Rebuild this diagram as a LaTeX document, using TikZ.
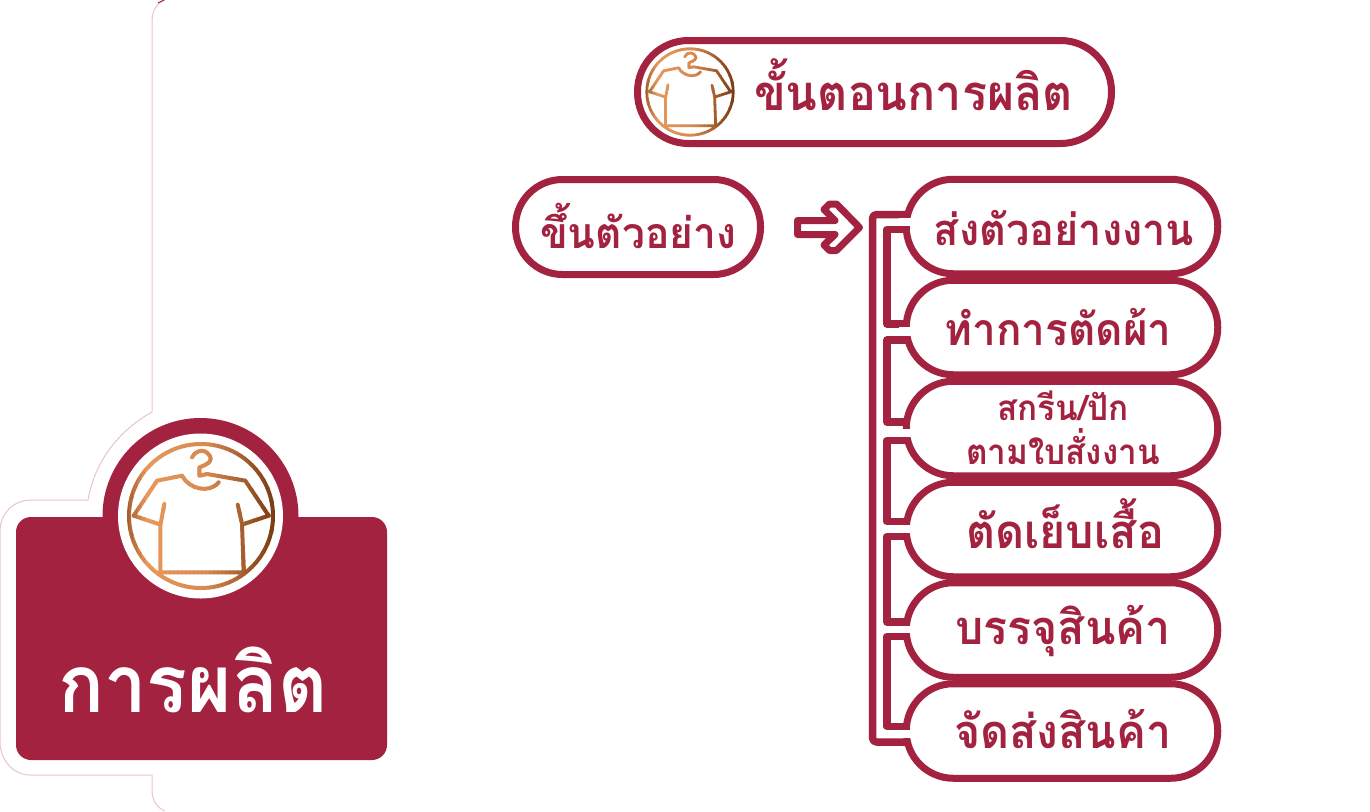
\documentclass[tikz,border=0pt]{standalone}
\usepackage{fontspec}
\newfontfamily\thaifont[Script=Thai,FakeStretch=0.95]{Loma}
\definecolor{crim}{HTML}{A32240}
\definecolor{pinkline}{HTML}{E6C3CD}
\definecolor{copperL}{HTML}{E8985C}
\definecolor{copperD}{HTML}{74350F}
\newcommand{\coppericon}[4]{%
  \foreach \ci in {0,...,37}{%
    \pgfmathtruncatemacro\cp{\ci<5 ? 40+12*\ci : (\ci<20 ? 100-(\ci-5) : 85-(\ci-20)*4.7)}%
    \begin{scope}[shift={(#1,#2)},scale=#3]
      \clip (-76+4*\ci,-80) rectangle (-76+4*\ci+4.6,80);
      \draw[copperL!\cp!copperD,line width=#4,line join=round,line cap=round]
        (0,0) circle[radius=72]
        (-19,-40.3) -- (-44,-35.3) -- (-67.3,-0.3) -- (-42.3,8)
        (-36.7,-12) -- (-40.7,9.7) -- (-40.7,56.3) -- (42.7,56.3) -- (41,8) -- (36.7,-11.3)
        (42.7,8) -- (67.7,-0.3) -- (44.3,-35.3) -- (6,-42) -- (-1.7,-40.3) -- (-1.7,-48.7)
        .. controls (8,-52) and (12,-56) .. (8.7,-60.3)
        .. controls (6,-66) and (-4,-68) .. (-9,-58.7)
        (-19,-40.3) .. controls (-12,-27) and (8,-22) .. (17.7,-33.7);
    \end{scope}
  }%
}
\tikzset{
  x=1pt,y=-1pt,
  pill/.style={draw=crim,fill=white,line width=7pt,text=crim,inner sep=0pt,align=center},
  bar/.style={draw=crim,line width=7.5pt,line cap=butt,line join=round},
  gap/.style={fill=white,draw=none},
  halo/.style={draw=pinkline,line width=1pt},
  lbl/.style={text=crim,inner sep=0pt,align=center,font=\thaifont\bfseries\fontsize{#1}{#1}\selectfont}
}
\begin{document}
\begin{tikzpicture}
\useasboundingbox (0,0) rectangle (1370,811);
% outline of the backing sheet
\draw[halo] (165,0) .. controls (157,3) and (152,10) .. (152,22) -- (152,412)
  .. controls (120,430) and (95,460) .. (88,500) -- (32,500)
  .. controls (14,500) and (1,512) .. (0,530) -- (0,745)
  .. controls (2,762) and (14,775) .. (30,775) -- (152,775) -- (152,790)
  .. controls (152,800) and (157,808) .. (165,811);
\draw[crim,line width=1pt] (158,3) -- (164,0);
% panel
\fill[crim,rounded corners=15pt] (16,517) rectangle (387,760);
\node[circle,fill=crim,minimum size=196pt,inner sep=0pt] (badge) at (200.5,516) {};
\node[circle,fill=white,minimum size=165pt,inner sep=0pt] (badgein) at (200.5,516) {};
\coppericon{201}{516}{1}{4pt}
\node[lbl=80,text=white] (title) at (193,680) {การผลิต};
% bracket
\coordinate (barT) at (872.5,214.5);
\coordinate (barB) at (872.5,742);
\draw[bar,rounded corners=4pt] (906,214.5) -- (barT) -- (barB) -- (906,742);
\foreach \ya/\yb in {229.5/324,340/422,440.5/521.5,536.5/622,636.5/726.5}{
  \draw[bar] (906,\ya) -- (887,\ya) -- (887,\yb) -- (906,\yb);
}
% pills
\node[pill,minimum width=311.5pt,minimum height=94.5pt,rounded corners=47pt] (p1) at (1062,226.5) {};
\node[pill,minimum width=311.5pt,minimum height=94.5pt,rounded corners=47pt] (p2) at (1062,327.5) {};
\node[pill,minimum width=311.5pt,minimum height=94.5pt,rounded corners=47pt] (p3) at (1062,428.5) {};
\node[pill,minimum width=311.5pt,minimum height=94.5pt,rounded corners=47pt] (p4) at (1062,529.5) {};
\node[pill,minimum width=311.5pt,minimum height=94.5pt,rounded corners=47pt] (p5) at (1062,630) {};
\node[pill,minimum width=311.5pt,minimum height=94.5pt,rounded corners=47pt] (p6) at (1062,731) {};
\foreach \ya/\yb in {218/226,327/336,429/437,525/533,626/633,730/738}{
  \fill[gap] (899,\ya) rectangle (916,\yb);
}
\node[lbl=43.6] (t1) at (1064,228) {ส่งตัวอย่างงาน};
\node[lbl=44.5] (t2) at (1058,327) {ทำการตัดผ้า};
\node[lbl=35,font=\thaifont\bfseries\fontsize{35}{44}\selectfont] (t3) at (1063,427.5) {สกรีน/ปัก\\ตามใบสั่งงาน};
\node[lbl=47.2] (t4) at (1065,524) {ตัดเย็บเสื้อ};
\node[lbl=47] (t5) at (1063,631) {บรรจุสินค้า};
\node[lbl=47] (t6) at (1063,729) {จัดส่งสินค้า};
% top pills
\node[pill,minimum width=474pt,minimum height=103pt,rounded corners=51pt] (head) at (874.5,92) {};
\coppericon{690}{92}{0.6}{2.8pt}
\node[lbl=49] (headt) at (913.5,85) {ขั้นตอนการผลิต};
\node[pill,minimum width=245pt,minimum height=95pt,rounded corners=47pt] (sample) at (638,227) {};
\node[lbl=42.8] (samplet) at (638,226) {ขึ้นตัวอย่าง};
% arrow
\draw[crim,line width=7pt,line join=round]
  (797.5,220.5) -- (835,220.5) -- (824,209.5) -- (829.5,204) -- (836.5,204) -- (859.5,227.5)
  -- (836.5,250.5) -- (829.5,250.5) -- (824,245) -- (835,234.5) -- (797.5,234.5) -- cycle;
\end{tikzpicture}
\end{document}
